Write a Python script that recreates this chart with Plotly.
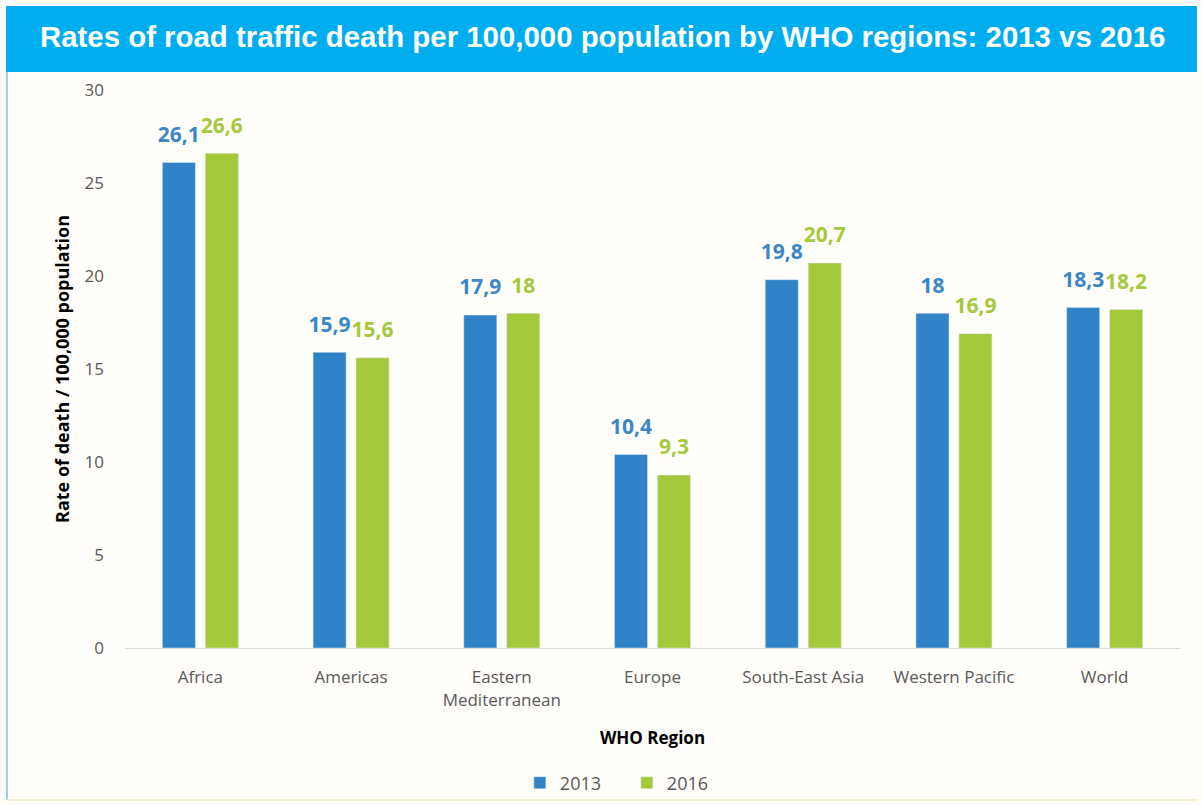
import plotly.graph_objects as go

regions = ["Africa", "Americas", "Eastern<br>Mediterranean", "Europe",
           "South-East Asia", "Western Pacific", "World"]
rate_2013 = [26.1, 15.9, 17.9, 10.4, 19.8, 18.0, 18.3]
rate_2016 = [26.6, 15.6, 18.0, 9.3, 20.7, 16.9, 18.2]
y_ticks = [0, 5, 10, 15, 20, 25, 30]

def fmt(v):
    return ("%g" % v).replace(".", ",")

blue = "#2F83C6"
green = "#A3C93A"

fig = go.Figure()
for name, vals, col in [("2013", rate_2013, blue),
                        ("2016", rate_2016, green)]:
    fig.add_trace(go.Bar(
        x=regions, y=vals, name=name, marker_color=col, offsetgroup=name,
    ))
for name, vals, tcol in [("2013", rate_2013, "#3B86C6"),
                         ("2016", rate_2016, "#A6C83E")]:
    fig.add_trace(go.Scatter(
        x=regions, y=vals, mode="markers+text", offsetgroup=name,
        marker=dict(size=23, color="rgba(0,0,0,0)"),
        text=[fmt(v) for v in vals], textposition="top center",
        textfont=dict(color=tcol, size=21, family="Open Sans", weight="bold"),
        showlegend=False, hoverinfo="skip", cliponaxis=False,
    ))

W, H = 1203, 805
L, R, T, B = 125, 23, 90, 157
PW, PH = W - L - R, H - T - B

def px(x):
    return (x - L) / PW

def py(y):
    return (H - B - y) / PH

fig.update_layout(
    width=W, height=H,
    margin=dict(l=L, r=R, t=T, b=B),
    paper_bgcolor="#FFFEFA", plot_bgcolor="#FFFEFA",
    barmode="group", bargap=0.43, bargroupgap=0.23,
    scattermode="group", scattergap=0.43,
    font=dict(family="Open Sans", color="#595959", size=17),
    showlegend=True,
    legend=dict(orientation="h", x=0.4757, xanchor="center",
                yref="container", y=(H - 783) / H, yanchor="middle",
                font=dict(size=18, color="#595959"), traceorder="normal",
                bgcolor="rgba(0,0,0,0)", itemwidth=30, entrywidth=62),
    xaxis=dict(showline=True, linecolor="#D9D9D9", linewidth=1, ticks="",
               automargin=False, ticklabelstandoff=14,
               tickfont=dict(size=17, color="#595959"),
               title=dict(text="<b>WHO Region</b>", font=dict(size=17, color="#000000"), standoff=22)),
    yaxis=dict(range=[0, 30], tickvals=y_ticks, showgrid=False, zeroline=False,
               automargin=False, showline=False, ticks="", ticklabelstandoff=20,
               tickfont=dict(size=17, color="#595959"),
               title=dict(text="<b>Rate of death / 100,000 population</b>",
                          font=dict(size=18, color="#000000"), standoff=10)),
    shapes=[
        dict(type="rect", xref="paper", yref="paper", layer="below",
             x0=px(6), x1=px(1197), y0=py(72), y1=py(6),
             fillcolor="#00AEEF", line=dict(width=0)),
        dict(type="line", xref="paper", yref="paper",
             x0=px(7), x1=px(7), y0=py(800), y1=py(72),
             line=dict(color="#9BD3EC", width=2)),
        dict(type="line", xref="paper", yref="paper",
             x0=px(7), x1=px(1197), y0=py(800), y1=py(800),
             line=dict(color="#F3EFD2", width=2)),
    ],
    annotations=[
        dict(text="<b>Rates of road traffic death per 100,000 population by WHO regions: 2013 vs 2016</b>",
             xref="paper", yref="paper", x=px(602), xanchor="center",
             y=py(37), yanchor="middle", showarrow=False,
             font=dict(family="Liberation Sans", size=29.4, color="#FFFFFF")),
    ],
)

fig.write_html("out.html", config={"displayModeBar": False},
               post_script="document.body.style.margin='0';document.body.style.overflow='hidden';")
